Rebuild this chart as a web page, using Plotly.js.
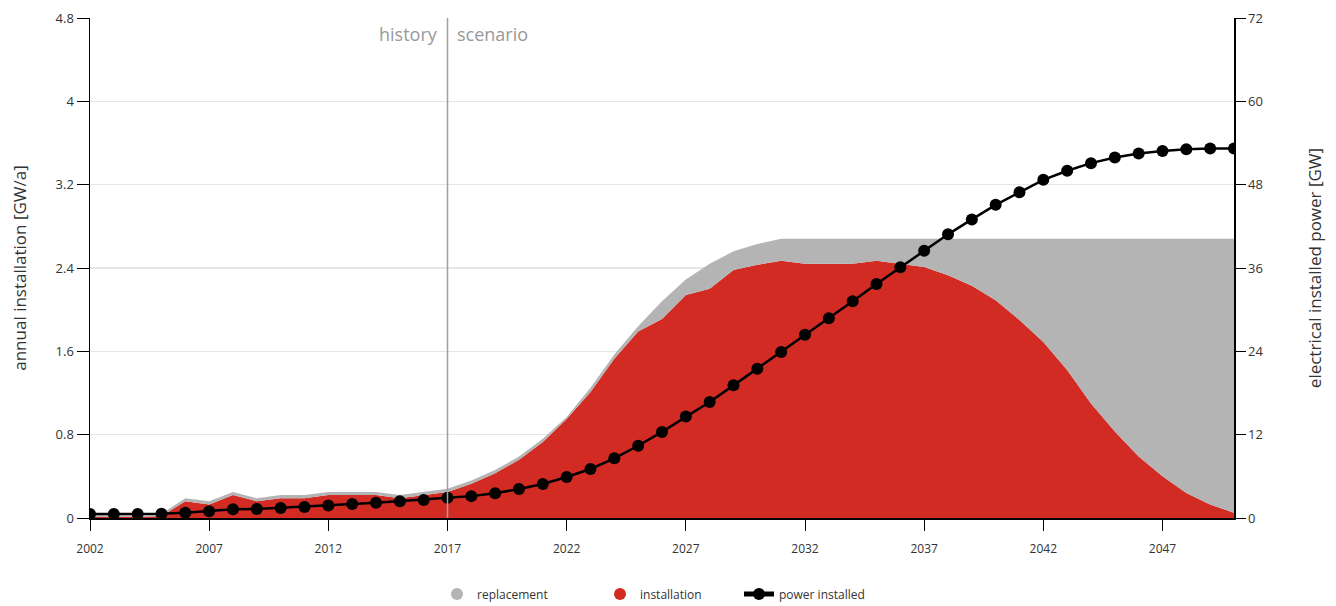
<!DOCTYPE html>
<html>
<head>
<meta charset="utf-8">
<script src="https://cdn.plot.ly/plotly-3.0.1.min.js"></script>
<style>html,body{margin:0;padding:0;background:#fff;}#chart{width:1336px;height:606px;}</style>
</head>
<body>
<div id="chart"></div>
<script>
const years = [2002,2003,2004,2005,2006,2007,2008,2009,2010,2011,2012,2013,2014,2015,2016,2017,2018,2019,2020,2021,2022,2023,2024,2025,2026,2027,2028,2029,2030,2031,2032,2033,2034,2035,2036,2037,2038,2039,2040,2041,2042,2043,2044,2045,2046,2047,2048,2049,2050];
const installation = [0.01,0.01,0.01,0.02,0.16,0.13,0.22,0.16,0.19,0.19,0.22,0.22,0.22,0.19,0.22,0.25,0.33,0.43,0.56,0.73,0.95,1.21,1.53,1.79,1.91,2.14,2.20,2.38,2.43,2.47,2.44,2.44,2.44,2.47,2.44,2.41,2.33,2.23,2.09,1.90,1.69,1.42,1.10,0.83,0.59,0.40,0.24,0.13,0.05];
const replacement = [0.02,0.02,0.02,0.02,0.03,0.03,0.03,0.03,0.03,0.03,0.03,0.03,0.03,0.03,0.03,0.03,0.03,0.03,0.03,0.03,0.02,0.04,0.04,0.05,0.17,0.15,0.24,0.18,0.20,0.21,0.24,0.24,0.24,0.21,0.24,0.27,0.35,0.45,0.59,0.78,0.99,1.26,1.58,1.85,2.09,2.28,2.44,2.55,2.63];
const powerInstalled = [0.58,0.58,0.58,0.6,0.77,0.96,1.25,1.3,1.45,1.6,1.8,2.0,2.2,2.4,2.6,2.9,3.15,3.55,4.18,4.9,5.9,7.06,8.6,10.4,12.4,14.6,16.7,19.1,21.5,23.9,26.4,28.75,31.2,33.7,36.1,38.5,40.85,43.0,45.1,46.9,48.7,50.0,51.1,51.9,52.5,52.85,53.1,53.2,53.2];
const xTicks = [2002,2007,2012,2017,2022,2027,2032,2037,2042,2047];
const leftTicks = [0,0.8,1.6,2.4,3.2,4,4.8];
const rightTicks = [0,12,24,36,48,60,72];
const seriesNames = ['replacement','installation','power installed'];

const RED = '#d22b23', GRAY = '#b3b4b3';
const FONT = '"Open Sans", "Noto Sans", sans-serif';

const traces = [
  {x: years, y: installation, type:'scatter', mode:'lines', stackgroup:'a', line:{width:0, color:RED}, fillcolor:RED, showlegend:false, hoverinfo:'skip'},
  {x: years, y: replacement, type:'scatter', mode:'lines', stackgroup:'a', line:{width:0, color:GRAY}, fillcolor:GRAY, showlegend:false, hoverinfo:'skip'},
  {x: [null], y: [null], type:'scatter', mode:'markers', name: seriesNames[0], legend:'legend', marker:{color:GRAY, size:18}},
  {x: [null], y: [null], type:'scatter', mode:'markers', name: seriesNames[1], legend:'legend2', marker:{color:RED, size:18}},
  {x: years, y: powerInstalled, yaxis:'y2', type:'scatter', mode:'lines+markers', name: seriesNames[2], legend:'legend3', line:{color:'#000', width:2.5}, marker:{color:'#000', size:12}}
];

function leg(px){
  return {orientation:'h', xref:'container', yref:'container', x:px/1336, xanchor:'left', y:1-594/606, yanchor:'middle', font:{size:12, color:'#333'}, itemsizing:'constant', bgcolor:'rgba(0,0,0,0)'};
}

const layout = {
  width:1336, height:606,
  margin:{l:90, r:102, t:18, b:88},
  paper_bgcolor:'#fff', plot_bgcolor:'#fff',
  font:{family:FONT, color:'#333', size:12},
  showlegend:true,
  legend: leg(437),
  legend2: leg(600),
  legend3: leg(739),
  xaxis:{range:[2002,2050], tickvals:xTicks, ticktext:xTicks.map(String), ticks:'outside', ticklen:11, tickcolor:'#000', showline:true, linecolor:'#000', linewidth:1.5, showgrid:false, zeroline:false, tickfont:{size:12,color:'#333'}, ticklabelstandoff:8},
  yaxis:{range:[0,4.8], tickvals:leftTicks, ticktext:leftTicks.map(String), ticks:'outside', ticklen:12, tickcolor:'#000', showline:true, linecolor:'#000', linewidth:1.5, showgrid:true, gridcolor:'#e6e6e6', gridwidth:1.5, zeroline:false, tickfont:{size:13,color:'#333'},
    title:{text:'annual installation [GW/a]', font:{size:17,color:'#333'}, standoff:24}},
  yaxis2:{range:[0,72], overlaying:'y', side:'right', tickvals:rightTicks, ticktext:rightTicks.map(String), ticks:'outside', ticklen:10, tickcolor:'#000', showline:true, linecolor:'#000', linewidth:1.5, showgrid:false, zeroline:false, tickfont:{size:13,color:'#333'},
    title:{text:'electrical installed power [GW]', font:{size:17,color:'#333'}, standoff:46}},
  shapes:[{type:'line', xref:'x', yref:'paper', x0:2017, x1:2017, y0:0, y1:1, line:{color:'#a0a0a0', width:1.5}}],
  annotations:[
    {xref:'x', yref:'paper', x:2017, y:0.968, text:'history', showarrow:false, xanchor:'right', yanchor:'middle', xshift:-8, font:{size:18, color:'#999'}},
    {xref:'x', yref:'paper', x:2017, y:0.968, text:'scenario', showarrow:false, xanchor:'left', yanchor:'middle', xshift:7, font:{size:18, color:'#999'}}
  ]
};

Plotly.newPlot('chart', traces, layout, {displayModeBar:false, staticPlot:true});
</script>
</body>
</html>
